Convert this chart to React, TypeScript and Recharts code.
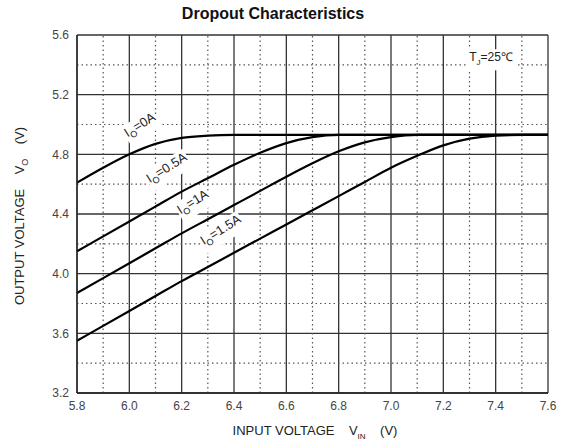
import { CartesianGrid, Line, LineChart, ReferenceLine, XAxis, YAxis } from "recharts";

// input voltage (V), read every 0.1 V
const VIN = [5.8, 5.9, 6.0, 6.1, 6.2, 6.3, 6.4, 6.5, 6.6, 6.7, 6.8, 6.9, 7.0, 7.1, 7.2, 7.3, 7.4, 7.5, 7.6];

// output voltage (V) per load current
const IO_0A = [4.61, 4.71, 4.8, 4.87, 4.91, 4.925, 4.93, 4.93, 4.93, 4.93, 4.93, 4.93, 4.93, 4.93, 4.93, 4.93, 4.93, 4.93, 4.93];
const IO_05A = [4.15, 4.25, 4.35, 4.45, 4.55, 4.64, 4.73, 4.81, 4.875, 4.915, 4.93, 4.93, 4.93, 4.93, 4.93, 4.93, 4.93, 4.93, 4.93];
const IO_1A = [3.87, 3.97, 4.07, 4.17, 4.27, 4.365, 4.46, 4.555, 4.65, 4.74, 4.82, 4.88, 4.915, 4.93, 4.93, 4.93, 4.93, 4.93, 4.93];
const IO_15A = [3.55, 3.65, 3.75, 3.85, 3.95, 4.045, 4.14, 4.235, 4.33, 4.425, 4.52, 4.615, 4.71, 4.79, 4.86, 4.905, 4.925, 4.93, 4.93];

const X_TICKS = [5.8, 6.0, 6.2, 6.4, 6.6, 6.8, 7.0, 7.2, 7.4, 7.6];
const Y_TICKS = [3.2, 3.6, 4.0, 4.4, 4.8, 5.2, 5.6];
const X_MINOR = [5.9, 6.1, 6.3, 6.5, 6.7, 6.9, 7.1, 7.3, 7.5];
const Y_MINOR = [3.4, 3.8, 4.2, 4.6, 5.0, 5.4];

const SERIES = [
  { key: "io0", values: IO_0A },
  { key: "io05", values: IO_05A },
  { key: "io1", values: IO_1A },
  { key: "io15", values: IO_15A },
];

const FONT = '"Liberation Sans", Arial, sans-serif';

const data = VIN.map((vin, i) => {
  const row: Record<string, number> = { vin };
  SERIES.forEach((s) => (row[s.key] = s.values[i]));
  return row;
});

function CurveLabel({ x, y, current }: { x: number; y: number; current: string }) {
  return (
    <div
      style={{
        position: "absolute",
        left: x,
        top: y,
        transform: "translate(-50%, -50%) rotate(-32deg)",
        fontSize: 13,
        color: "#222",
        background: "#fff",
        padding: "0 1px",
        whiteSpace: "nowrap",
        lineHeight: "15px",
      }}
    >
      I<sub style={{ fontSize: 9 }}>O</sub>={current}
    </div>
  );
}

export default function App() {
  const tick = { fontSize: 12, fill: "#444", fontFamily: FONT };
  return (
    <div
      style={{
        position: "absolute",
        left: 0,
        top: 0,
        width: 565,
        height: 444,
        background: "#fff",
        fontFamily: FONT,
      }}
    >
      <LineChart width={565} height={444} data={data} margin={{ top: 35, right: 17, bottom: 21, left: 27 }}>
        <CartesianGrid stroke="#333" strokeWidth={1.3} />
        {X_MINOR.map((v) => (
          <ReferenceLine key={`x${v}`} x={v} stroke="#555" strokeWidth={1.2} strokeDasharray="1.5 3" />
        ))}
        {Y_MINOR.map((v) => (
          <ReferenceLine key={`y${v}`} y={v} stroke="#555" strokeWidth={1.2} strokeDasharray="1.5 3" />
        ))}
        <XAxis
          type="number"
          dataKey="vin"
          domain={[5.8, 7.6]}
          ticks={X_TICKS}
          tickFormatter={(v: number) => v.toFixed(1)}
          tickLine={false}
          axisLine={{ stroke: "#222", strokeWidth: 1.3 }}
          tick={tick}
          height={30}
        />
        <YAxis
          type="number"
          domain={[3.2, 5.6]}
          ticks={Y_TICKS}
          tickFormatter={(v: number) => v.toFixed(1)}
          tickLine={false}
          axisLine={{ stroke: "#222", strokeWidth: 1.3 }}
          tick={tick}
          width={50}
        />
        {SERIES.map((s) => (
          <Line
            key={s.key}
            type="monotone"
            dataKey={s.key}
            stroke="#000"
            strokeWidth={2.2}
            dot={false}
            isAnimationActive={false}
          />
        ))}
      </LineChart>

      <div
        style={{
          position: "absolute",
          left: 273,
          top: 14,
          transform: "translate(-50%, -50%)",
          fontSize: 16,
          fontWeight: "bold",
          color: "#111",
          whiteSpace: "nowrap",
        }}
      >
        Dropout Characteristics
      </div>

      <div
        style={{
          position: "absolute",
          left: 21,
          top: 216,
          transform: "translate(-50%, -50%) rotate(-90deg)",
          fontSize: 13,
          color: "#222",
          whiteSpace: "nowrap",
        }}
      >
        OUTPUT VOLTAGE&nbsp;&nbsp;&nbsp; V<sub style={{ fontSize: 9 }}>O</sub>&nbsp;&nbsp;&nbsp; (V)
      </div>

      <div
        style={{
          position: "absolute",
          left: 315,
          top: 432,
          transform: "translate(-50%, -50%)",
          fontSize: 13,
          color: "#222",
          whiteSpace: "nowrap",
        }}
      >
        INPUT VOLTAGE&nbsp;&nbsp;&nbsp; V<sub style={{ fontSize: 8 }}>IN</sub>&nbsp;&nbsp;&nbsp; (V)
      </div>

      <div
        style={{
          position: "absolute",
          left: 491,
          top: 60,
          transform: "translate(-50%, -50%)",
          fontSize: 12,
          color: "#222",
          background: "#fff",
          padding: "0 3px",
          whiteSpace: "nowrap",
          lineHeight: "16px",
        }}
      >
        T<sub style={{ fontSize: 8 }}>J</sub>=25℃
      </div>

      <CurveLabel x={141} y={127} current="0A" />
      <CurveLabel x={168} y={170} current="0.5A" />
      <CurveLabel x={194} y={204} current="1A" />
      <CurveLabel x={222} y={232} current="1.5A" />
    </div>
  );
}
